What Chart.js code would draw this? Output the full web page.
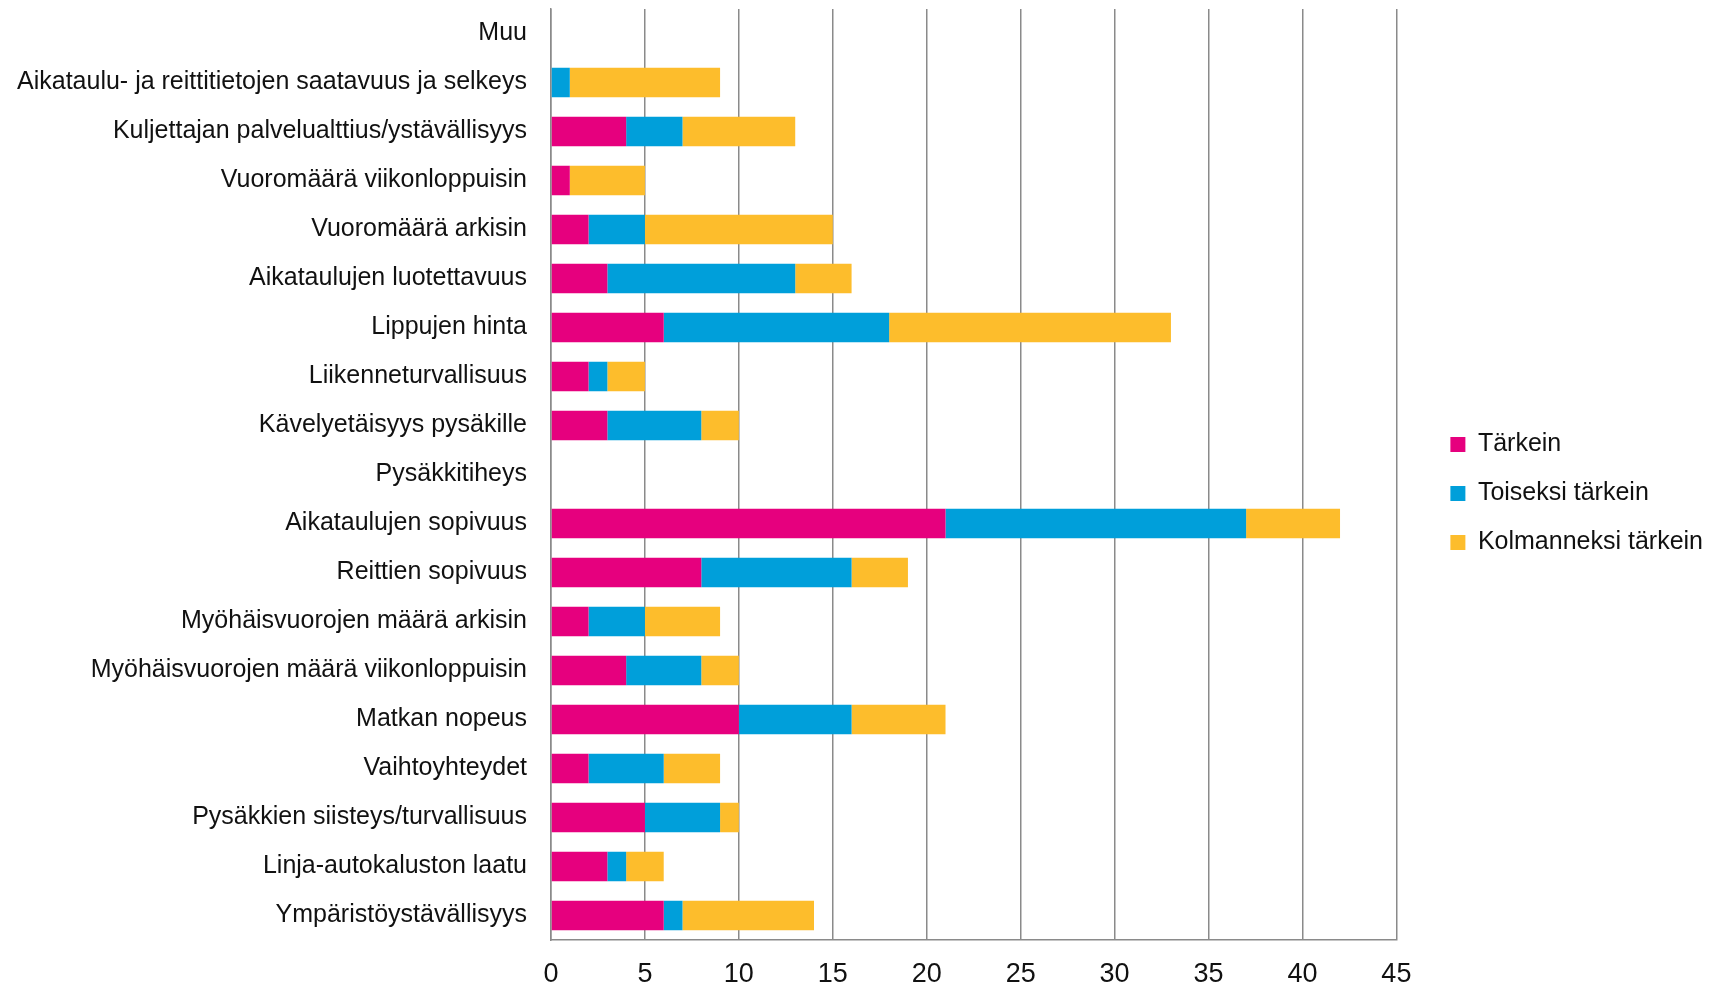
<!DOCTYPE html>
<html>
<head>
<meta charset="utf-8">
<script src="https://cdn.jsdelivr.net/npm/chart.js@4"></script>
<style>
  html, body { margin: 0; padding: 0; background: #fff; }
  #wrap { width: 1715px; height: 988px; }
</style>
</head>
<body>
<div id="wrap"><canvas id="myChart" width="1715" height="988"></canvas></div>
<script>
var categories = ['Muu', 'Aikataulu- ja reittitietojen saatavuus ja selkeys', 'Kuljettajan palvelualttius/ystävällisyys',
  'Vuoromäärä viikonloppuisin', 'Vuoromäärä arkisin', 'Aikataulujen luotettavuus', 'Lippujen hinta',
  'Liikenneturvallisuus', 'Kävelyetäisyys pysäkille', 'Pysäkkitiheys', 'Aikataulujen sopivuus',
  'Reittien sopivuus', 'Myöhäisvuorojen määrä arkisin', 'Myöhäisvuorojen määrä viikonloppuisin',
  'Matkan nopeus', 'Vaihtoyhteydet', 'Pysäkkien siisteys/turvallisuus', 'Linja-autokaluston laatu',
  'Ympäristöystävällisyys'];
var tarkein = [0, 0, 4, 1, 2, 3, 6, 2, 3, 0, 21, 8, 2, 4, 10, 2, 5, 3, 6];
var toiseksi = [0, 1, 3, 0, 3, 10, 12, 1, 5, 0, 16, 8, 3, 4, 6, 4, 4, 1, 1];
var kolmanneksi = [0, 8, 6, 4, 10, 3, 15, 2, 2, 0, 5, 3, 4, 2, 5, 3, 1, 2, 7];
var xTicks = [0, 5, 10, 15, 20, 25, 30, 35, 40, 45];

var font = 'Liberation Sans';
var gridColor = '#8a8a8a';

// leave a wider gap between the plot and the legend, and lift the legend a little
var legendGap = 30;
var legendNudge = {
  id: 'legendNudge',
  beforeLayout: function (chart) {
    var lg = chart.legend;
    if (lg && !lg._nudged) {
      var fit = lg.fit;
      lg.fit = function () { fit.call(this); this.width += legendGap; };
      lg._nudged = true;
    }
  },
  afterLayout: function (chart) {
    var lg = chart.legend;
    if (!lg) return;
    lg.left += legendGap;
    lg.top -= 5;
    lg.bottom -= 5;
  }
};

var ctx = document.getElementById('myChart').getContext('2d');
var chart = new Chart(ctx, {
  type: 'bar',
  data: {
    labels: categories,
    datasets: [
      { label: 'Tärkein', data: tarkein, backgroundColor: '#e6007e' },
      { label: 'Toiseksi tärkein', data: toiseksi, backgroundColor: '#009fda' },
      { label: 'Kolmanneksi tärkein', data: kolmanneksi, backgroundColor: '#fdbd2c' }
    ]
  },
  options: {
    indexAxis: 'y',
    responsive: false,
    animation: false,
    barPercentage: 0.6,
    categoryPercentage: 1,
    layout: { padding: { top: 9, right: 2, bottom: 0, left: 0 } },
    scales: {
      x: {
        stacked: true,
        min: 0,
        max: 45,
        afterBuildTicks: function (axis) { axis.ticks = xTicks.map(function (v) { return { value: v }; }); },
        afterFit: function (s) { s.height = 48; },
        grid: { color: gridColor, lineWidth: 1.5, drawTicks: false },
        border: { display: true, color: gridColor, width: 1.5 },
        ticks: { color: '#111', padding: 18, font: { family: font, size: 27 } }
      },
      y: {
        stacked: true,
        afterFit: function (s) { s.width = 551; s.paddingTop = 0; s.paddingBottom = 0; },
        grid: { display: false, drawTicks: false },
        border: { display: true, color: gridColor, width: 1.5 },
        ticks: { color: '#111', padding: 24, autoSkip: false, font: { family: font, size: 25 } }
      }
    },
    plugins: {
      legend: {
        position: 'right',
        labels: {
          color: '#111',
          boxWidth: 15,
          boxHeight: 15,
          padding: 24,
          font: { family: font, size: 25 }
        }
      },
      tooltip: { enabled: false }
    }
  },
  plugins: [legendNudge]
});
</script>
</body>
</html>
